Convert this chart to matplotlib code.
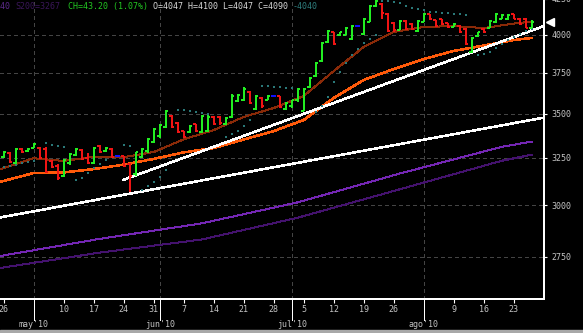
import numpy as np
import matplotlib
matplotlib.use("Agg")
import matplotlib.pyplot as plt
from matplotlib.transforms import blended_transform_factory
from matplotlib.patches import Rectangle

# ---------------- data (trading-day index 0 = 26 Apr 2010) ----------------
opens = [3255, 3278, 3222, 3300, 3285, 3306, 3306, 3300, 3232, 3205,
         3150, 3220, 3265, 3295, 3250, 3222, 3315, 3285, 3300, 3260,
         3258, 3215, 3160, 3255, 3285, 3340, 3370, 3425, 3490, 3445,
         3398, 3392, 3438, 3395, 3400, 3480, 3482, 3440, 3480, 3575,
         3580, 3630, 3530, 3598, 3585, 3607, 3605, 3530, 3545, 3580,
         3520, 3660, 3730, 3825, 3950, 4015, 3995, 4000, 3970, 4059,
         4005, 4090, 4195, 4215, 4145, 4080, 4035, 4095, 4075, 4025,
         4090, 4140, 4098, 4105, 4078, 4055, 4062, 4040, 3885, 3988,
         4042, 4048, 4085, 4110, 4105, 4140, 4110, 4110, 4047]
highs = [3287, 3282, 3304, 3304, 3304, 3332, 3310, 3310, 3238, 3216,
         3243, 3276, 3304, 3298, 3276, 3310, 3321, 3310, 3304, 3262,
         3260, 3222, 3282, 3304, 3360, 3418, 3441, 3523, 3493, 3452,
         3400, 3435, 3441, 3493, 3493, 3487, 3487, 3482, 3620, 3620,
         3662, 3638, 3614, 3601, 3614, 3609, 3607, 3571, 3583, 3656,
         3656, 3725, 3820, 3951, 4032, 4018, 4018, 4052, 4066, 4061,
         4114, 4206, 4250, 4220, 4149, 4086, 4100, 4100, 4080, 4100,
         4149, 4142, 4100, 4107, 4080, 4080, 4066, 4045, 3984, 4018,
         4045, 4100, 4149, 4142, 4142, 4142, 4114, 4114, 4100]
lows = [3249, 3222, 3216, 3276, 3282, 3304, 3243, 3168, 3195, 3131,
        3147, 3211, 3260, 3238, 3216, 3216, 3276, 3282, 3249, 3258,
        3200, 3068, 3152, 3249, 3276, 3332, 3360, 3418, 3418, 3389,
        3360, 3389, 3395, 3389, 3395, 3435, 3435, 3435, 3476, 3571,
        3577, 3559, 3523, 3535, 3583, 3605, 3535, 3523, 3535, 3571,
        3515, 3656, 3725, 3820, 3945, 3931, 3991, 3998, 3964, 4057,
        3998, 4086, 4190, 4110, 4018, 4018, 4032, 4032, 4032, 4018,
        4086, 4100, 4052, 4066, 4045, 4052, 4011, 3931, 3877, 3984,
        4011, 4045, 4080, 4107, 4100, 4107, 4066, 4047, 4047]
closes = [3282, 3228, 3298, 3280, 3300, 3328, 3250, 3175, 3200, 3140,
          3238, 3270, 3300, 3245, 3222, 3305, 3282, 3305, 3255, 3260,
          3205, 3150, 3280, 3300, 3355, 3412, 3435, 3515, 3425, 3395,
          3365, 3430, 3400, 3488, 3480, 3440, 3445, 3478, 3610, 3615,
          3650, 3565, 3608, 3545, 3607, 3607, 3540, 3565, 3580, 3650,
          3650, 3720, 3815, 3945, 4025, 3935, 4015, 4045, 4060, 4059,
          4110, 4200, 4235, 4149, 4025, 4030, 4095, 4040, 4038, 4095,
          4142, 4105, 4058, 4070, 4050, 4076, 4015, 3940, 3980, 4015,
          4015, 4095, 4142, 4138, 4138, 4110, 4070, 4047, 4090]

# parabolic SAR dots (None = not visible)
sar = [3200, 3206, 3211, 3222, 3227, 3232, None, 3332, 3321, 3315,
       3310, None, 3131, 3141, 3168, 3195, 3216, 3238, None, None,
       3321, 3315, None, 3078, 3099, 3120, 3147, 3184, None, 3523,
       3523, 3517, 3511, 3505, 3499, None, None, 3366, 3383, 3400,
       3429, 3464, None, 3669, 3669, 3662, 3662, 3656, 3656, None,
       None, None, 3511, 3547, 3601, 3694, 3756, 3814, 3866, 3905,
       3944, 3971, 3998, 4234, 4234, 4227, 4220, 4199, 4185, 4177,
       4170, 4156, 4156, 4149, 4149, 4142, 4142, 4135, None, 3866,
       3872, 3885, 3911, 3937, 3964, 3984, 4005, 4025, 4040]

# moving averages
ma_idx = [-0.62, 5, 10, 15, 20, 25, 30, 35, 40, 45, 50, 55, 60, 65, 70, 75, 80, 85, 88]
ma_short = [3188, 3248, 3233, 3256, 3254, 3282, 3353, 3406, 3482, 3535,
            3607, 3762, 3918, 4018, 4052, 4059, 4045, 4076, 4089]
ma_mid = [3121, 3168, 3171, 3189, 3213, 3244, 3280, 3304, 3352, 3400,
          3464, 3595, 3706, 3775, 3839, 3892, 3928, 3964, 3978]
long_idx = [-0.62, 16, 33, 49, 66, 83, 88]
s100 = [2754, 2835, 2910, 3015, 3165, 3311, 3340]
s200 = [2699, 2770, 2832, 2938, 3082, 3234, 3267]

# trend lines
trend1_idx, trend1_val = [19.9, 90.05], [3131, 4059]
trend2_idx, trend2_val = [-0.62, 90.05], [2939, 3478]

# axes labels
y_ticks = [2750, 3000, 3250, 3500, 3750, 4000, 4250]
day_idx = [0, 10, 15, 20, 25, 30, 35, 40, 45, 50, 55, 60, 65, 75, 80, 85]
day_labels = ["26", "10", "17", "24", "31", "7", "14", "21", "28", "5",
              "12", "19", "26", "9", "16", "23"]
month_idx = [5, 26, 48, 70]
month_labels = ["may'10", "jun'10", "jul'10", "ago'10"]

# ---------------- figure ----------------
W, H = 583, 333
fig = plt.figure(figsize=(W / 100, H / 100), dpi=100, facecolor="black")
ax = fig.add_axes([0, 34 / H, 544 / W, 319 / H])
ax.set_facecolor("black")
ax.set_yscale("log")
ax.set_ylim(2561.6, 4386.5)
ax.set_xlim(-0.617, 90.05)

MONO = "DejaVu Sans Mono"
GRID = "#444444"
LBL = "#c4c4c4"
AA = False
PX1 = 0.72   # one pixel in points

for s in ["top", "left"]:
    ax.spines[s].set_visible(False)
for s in ["right", "bottom"]:
    ax.spines[s].set_color("white")
    ax.spines[s].set_linewidth(1.1)
    ax.spines[s].set_antialiased(AA)

# grid
for v in y_ticks[:-1]:
    ax.axhline(v, color=GRID, lw=PX1, ls=(0, (4, 4)), zorder=1, antialiased=AA)
for m in month_idx:
    ax.axvline(m, color=GRID, lw=PX1, ls=(0, (4, 4)), zorder=1, antialiased=AA)

# y axis on the right
ax.yaxis.tick_right()
ax.yaxis.set_minor_locator(matplotlib.ticker.NullLocator())
ax.set_yticks(y_ticks, labels=[str(v) for v in y_ticks])
ax.tick_params(axis="y", which="major", color="white", labelcolor=LBL,
               length=2.3, width=0.8, pad=2.8, labelsize=6)
for t in ax.get_yticklabels():
    t.set_family(MONO)

# x axis
ax.set_xticks(day_idx, labels=day_labels)
ax.tick_params(axis="x", color="white", labelcolor=LBL, length=3,
               width=0.8, pad=1.2, labelsize=6)
for t in ax.get_xticklabels():
    t.set_family(MONO)

bt = blended_transform_factory(ax.transData, ax.transAxes)
for m, lab in zip(month_idx, month_labels):
    ax.plot([m, m], [0, -21 / 319], transform=bt, clip_on=False,
            color="white", lw=PX1, antialiased=AA)
    ax.text(m, -25.5 / 319, lab, transform=bt, ha="center", va="center",
            fontsize=6, color=LBL, family=MONO)

# long averages
ax.plot(long_idx, s100, color="#7426b4", lw=PX1, zorder=2, antialiased=AA)
ax.plot(long_idx, s200, color="#44126e", lw=PX1, zorder=2, antialiased=AA)

# moving averages
ax.plot(ma_idx, ma_mid, color="#ff5a0a", lw=1.1, zorder=3, antialiased=AA)
ax.plot(ma_idx, ma_short, color="#8a2a08", lw=PX1, zorder=3, antialiased=AA)

# trend lines
ax.plot(trend1_idx, trend1_val, color="white", lw=1.1, zorder=4, antialiased=AA)
ax.plot(trend2_idx, trend2_val, color="white", lw=1.1, zorder=4, antialiased=AA)

# SAR dots
sx = [i for i, v in enumerate(sar) if v is not None]
sy = [v for v in sar if v is not None]
ax.scatter(sx, sy, s=1.2, marker="s", color="#2a7878", linewidths=0, zorder=5)

# OHLC bars
x = np.arange(len(closes))
cols = []
for o, c in zip(opens, closes):
    if c > o:
        cols.append("#22ee22")
    elif c < o:
        cols.append("#f01414")
    else:
        cols.append("#1010ff")
tw = 0.42
ax.vlines(x, lows, highs, colors=cols, lw=1.2, zorder=6, antialiased=AA)
ax.hlines(opens, x - tw, x, colors=cols, lw=1.2, zorder=6, antialiased=AA)
ax.hlines(closes, x, x + tw, colors=cols, lw=1.2, zorder=6, antialiased=AA)

# last-price marker
bt2 = blended_transform_factory(ax.transAxes, ax.transData)
ax.plot([549.5 / 544], [closes[-1]], marker="<", ms=5.5, color="white",
        transform=bt2, clip_on=False, zorder=7)

# header
hy = 1 - 6.7 / H
fig.text(-35 / W, hy, "S100=3340", color="#5e2a8c", family=MONO, fontsize=6, va="center")
fig.text(15 / W, hy, "S200=3267", color="#3a1658", family=MONO, fontsize=6, va="center")
fig.text(68 / W, hy, "CH=43.20 (1.07%)", color="#22c822", family=MONO, fontsize=6, va="center")
fig.text(153 / W, hy, "O=4047 H=4100 L=4047 C=4090", color="#d8d8d8", family=MONO,
         fontsize=6, va="center")
fig.text(293 / W, hy, "-4040", color="#2f7f7f", family=MONO, fontsize=6, va="center")

# bottom window border
fig.patches.append(Rectangle((0, 0), 1, 3 / H, transform=fig.transFigure,
                             color="#a8a8a8", zorder=0))

fig.savefig("out.png", dpi=100, facecolor="black")
